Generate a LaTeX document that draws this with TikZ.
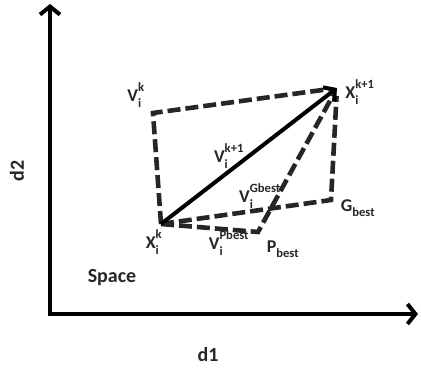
\documentclass[tikz,border=0pt]{standalone}
\usepackage{amsmath}
\usepackage{fontspec}
\setmainfont{Carlito}
\usetikzlibrary{arrows.meta}
\newcommand{\up}[1]{\raisebox{2.5pt}{$\scriptstyle\text{#1}$}}
\newcommand{\dn}[1]{\raisebox{-2pt}{$\scriptstyle\text{#1}$}}
\tikzset{
    axis/.style={line width=4pt, {Straight Barb[length=8pt,width=20pt]}-{Straight Barb[length=8pt,width=20pt]}},
    move/.style={line width=4pt, -{Straight Barb[length=8pt,width=18pt]}},
    part/.style={line width=4.6pt, dash pattern=on 13pt off 5pt, black!85},
    lbl/.style={font=\fontsize{18}{20}\selectfont\bfseries, inner sep=0pt, text=black!85},
    big/.style={font=\fontsize{20}{22}\selectfont\bfseries, inner sep=0pt, text=black!85}
}

\begin{document}
\begin{tikzpicture}[x=1pt, y=-1pt]
\useasboundingbox (0,0) rectangle (421,371);
% search space
\coordinate (O) at (50,314);
\coordinate (d1end) at (418,314);
\coordinate (d2end) at (50,4);
\draw[axis, line join=miter] (d2end) -- (O) -- (d1end);
\node[big] (d1) at (208,355) {d1};
\node[big, rotate=90] (d2) at (17,171) {d2};
\node[big] (space) at (112,278) {Space};
% positions
\coordinate (Xk) at (161,224);
\coordinate (Xk1) at (337,88);
\coordinate (Vk) at (153,113);
\coordinate (Gb) at (331,200);
\coordinate (Pb) at (258,232);
% velocity parts
\draw[part, shorten >=8pt] (Xk) -- (Vk) -- (Xk1);
\draw[part, shorten >=8pt] (Xk) -- (Gb) -- (Xk1);
\draw[part, shorten >=8pt] (Xk) -- (Pb) -- (Xk1);
\draw[move] (Xk) -- (Xk1);
% labels
\node[lbl] (lVk) at (136,95) {$\text{V}_{\dn{i}}^{\up{k}}$};
\node[lbl] (lXk1) at (360,92) {$\text{X}_{\dn{i}}^{\up{k+1}}$};
\node[lbl] (lVk1) at (229,156) {$\text{V}_{\dn{i}}^{\up{k+1}}$};
\node[lbl] (lVg) at (260,196) {$\text{V}_{\dn{i}}^{\up{Gbest}}$};
\node[lbl] (lGb) at (358,208) {$\text{G}_{\dn{best}}$};
\node[lbl] (lXk) at (154,242) {$\text{X}_{\dn{i}}^{\up{k}}$};
\node[lbl] (lVp) at (229,243) {$\text{V}_{\dn{i}}^{\up{Pbest}}$};
\node[lbl] (lPb) at (283,249) {$\text{P}_{\dn{best}}$};
\end{tikzpicture}
\end{document}
